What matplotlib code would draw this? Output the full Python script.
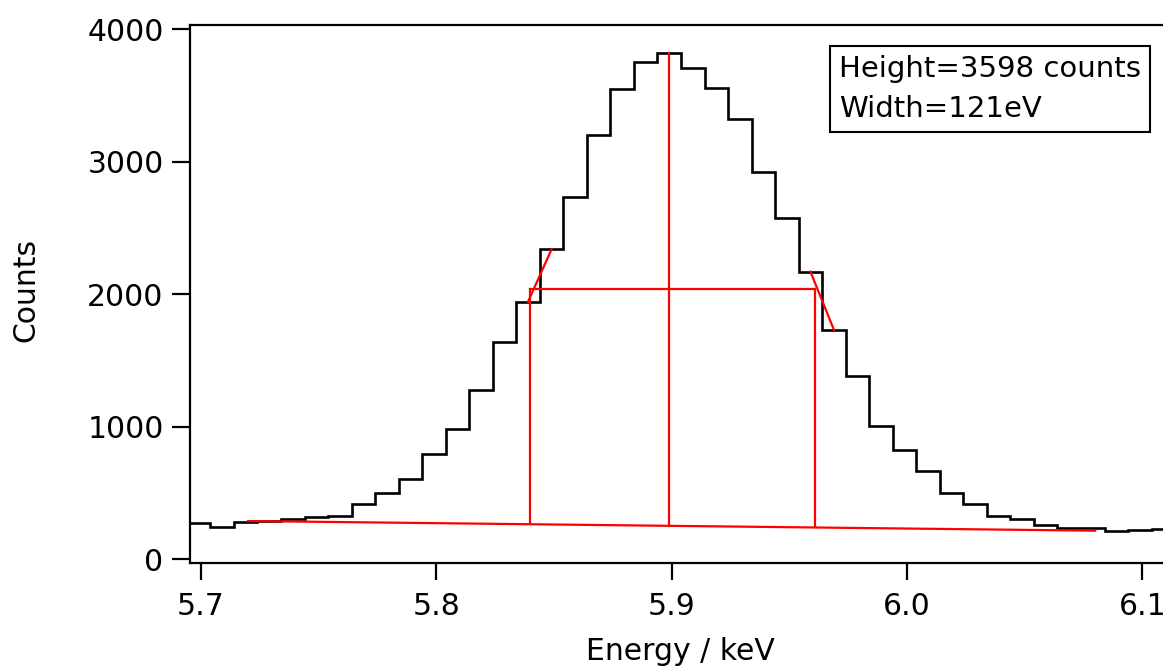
import numpy as np
import matplotlib
matplotlib.use("Agg")
import matplotlib.pyplot as plt

plt.rcParams['font.family'] = ['DejaVu Sans']

# histogram bin centres (keV) and counts
energy = [5.699, 5.709, 5.719, 5.729, 5.739, 5.749, 5.759, 5.769, 5.779, 5.789,
          5.799, 5.809, 5.819, 5.829, 5.839, 5.849, 5.859, 5.869, 5.879, 5.889,
          5.899, 5.909, 5.919, 5.929, 5.939, 5.949, 5.959, 5.969, 5.979, 5.989,
          5.999, 6.009, 6.019, 6.029, 6.039, 6.049, 6.059, 6.069, 6.079, 6.089,
          6.099, 6.109]
counts = [270, 239, 282, 285, 300, 317, 327, 415, 498, 602,
          793, 984, 1276, 1639, 1943, 2339, 2732, 3202, 3548, 3749,
          3824, 3711, 3560, 3323, 2921, 2573, 2170, 1730, 1385, 1007,
          821, 665, 496, 415, 327, 303, 260, 236, 236, 214,
          219, 227]
bin_width = 0.01

# peak analysis results
baseline_x = [5.72, 6.08]
baseline_y = [287, 214]
peak_pos = 5.899
half_left = 5.8398
half_right = 5.9611
half_level = 2037
slope_left = [14, 15]     # bin indices used for the left half-max interpolation
slope_right = [26, 27]    # bin indices used for the right half-max interpolation
height_txt = "Height=3598 counts"
width_txt = "Width=121eV"

energy = np.array(energy)
counts = np.array(counts)
edges = np.append(energy - bin_width / 2, energy[-1] + bin_width / 2)

fs = 21.5

fig = plt.figure(figsize=(11.63, 6.71), dpi=100)
ax = fig.add_axes([190 / 1163, 1 - 563 / 671, 973 / 1163, 538 / 671])

ax.stairs(counts, edges, baseline=None, color='black', lw=1.9)

red = dict(color='red', lw=1.6)
ax.plot(baseline_x, baseline_y, **red)
base_at = lambda x: np.interp(x, baseline_x, baseline_y)
ax.plot([peak_pos, peak_pos], [base_at(peak_pos), counts.max()], **red)
ax.plot([half_left, half_left], [base_at(half_left), half_level], **red)
ax.plot([half_right, half_right], [base_at(half_right), half_level], **red)
ax.plot([half_left, half_right], [half_level, half_level], **red)
ax.plot(energy[slope_left], counts[slope_left], **red)
ax.plot(energy[slope_right], counts[slope_right], **red)

ax.set_xlim(5.69533, 6.10884)
ax.set_ylim(-30, 4032)
ax.set_xticks([5.7, 5.8, 5.9, 6.0, 6.1])
ax.set_xticklabels(['5.7', '5.8', '5.9', '6.0', '6.1'])
ax.set_yticks([0, 1000, 2000, 3000, 4000])

ax.spines['right'].set_visible(False)
for s in ['left', 'top', 'bottom']:
    ax.spines[s].set_linewidth(1.6)
ax.tick_params(axis='x', direction='out', length=12, width=1.6, pad=9, labelsize=fs)
ax.tick_params(axis='y', direction='out', length=13, width=1.6, pad=6, labelsize=fs)

ax.set_xlabel('Energy / keV', fontsize=fs)
ax.xaxis.set_label_coords(0.5036, -0.138)
ax.set_ylabel('Counts', fontsize=fs)
ax.yaxis.set_label_coords(-0.154, 0.508)

ax.text(0.667, 0.944, height_txt + "\n" + width_txt, transform=ax.transAxes,
        ha='left', va='top', fontsize=21, linespacing=1.55,
        bbox=dict(boxstyle='square,pad=0.3', fc='white', ec='black', lw=1.5))

fig.savefig('out.png', dpi=100)
